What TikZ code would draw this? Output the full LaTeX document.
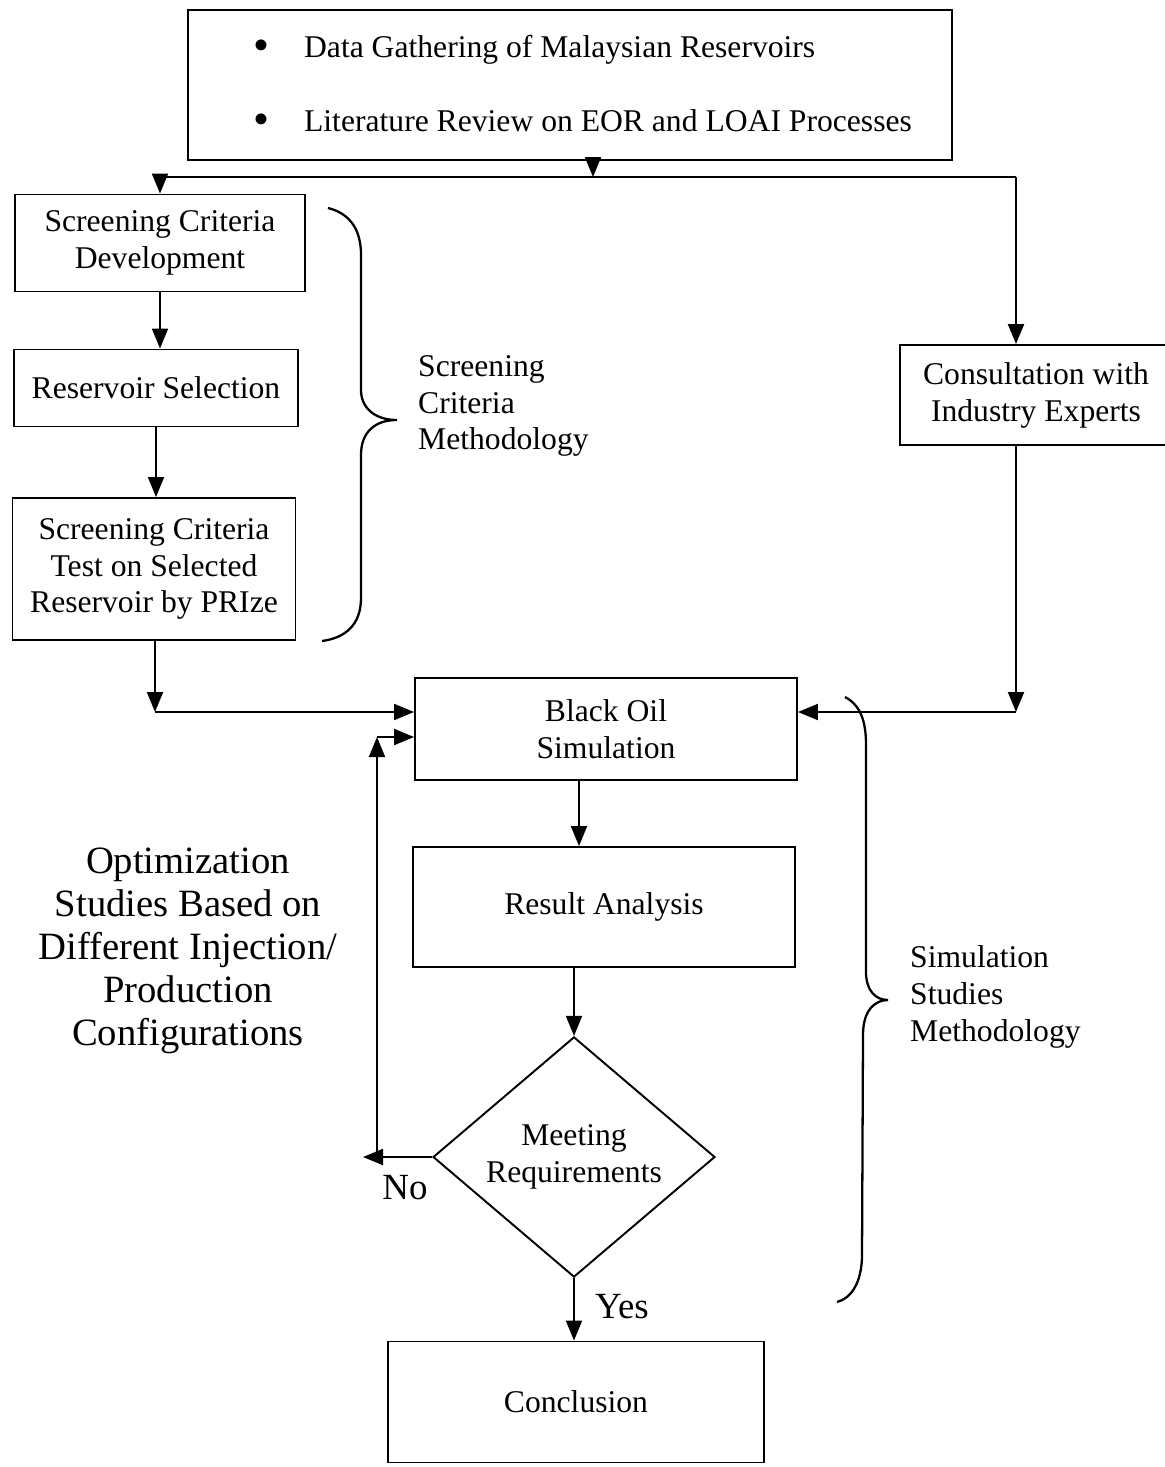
\documentclass[tikz,border=0pt]{standalone}
\usepackage{fontspec}
\setmainfont{Liberation Serif}
\usetikzlibrary{arrows.meta,shapes.geometric,positioning,calc}
\usepackage{xcolor}

\newcommand{\bigdot}{\raisebox{-2pt}{\fontsize{26}{21}\selectfont\textbullet}}

\begin{document}
\begin{tikzpicture}[x=0.02cm,y=-0.02cm,
	box/.style={draw,line width=1.1pt,rectangle,align=center,inner sep=2pt},
	arr/.style={line width=1.1pt,-{Triangle[length=0.4cm,width=0.32cm]}},
	curly/.style={line width=1.3pt},
	every node/.style={font=\fontsize{18}{21}\selectfont}]
	\useasboundingbox (0,0) rectangle (1164,1467);

	\node[box,minimum width=15.28cm,minimum height=3cm,align=left] (gather) at (570,85)
		{\hspace*{0.5cm}\bigdot\hspace{0.7cm}Data Gathering of Malaysian Reservoirs\\[21pt]
		 \hspace*{0.5cm}\bigdot\hspace{0.7cm}Literature Review on EOR and LOAI Processes};
	\node[box,minimum width=5.8cm,minimum height=1.94cm] (scd) at (160,243) {Screening Criteria\\Development};
	\node[box,minimum width=5.68cm,minimum height=1.54cm] (rsel) at (156,388) {Reservoir Selection};
	\node[box,minimum width=5.66cm,minimum height=2.84cm] (sctest) at (154,569) {Screening Criteria\\Test on Selected\\Reservoir by PRIze};
	\node[box,minimum width=5.44cm,minimum height=2cm] (consult) at (1036,395) {Consultation with\\Industry Experts};
	\node[box,minimum width=7.64cm,minimum height=2.04cm] (sim) at (606,729) {Black Oil\\Simulation};
	\node[box,minimum width=7.64cm,minimum height=2.4cm] (result) at (604,907) {Result Analysis};
	\node[draw,diamond,line width=1.1pt,align=center,inner sep=0pt,minimum width=5.64cm,minimum height=4.6cm] (decide) at (574,1157) {Meeting\\Requirements};
	\node[box,minimum width=7.52cm,minimum height=2.42cm] (concl) at (576,1402) {Conclusion};

	\node[anchor=west,align=left] (scmeth) at (412,406) {Screening\\Criteria\\Methodology};
	\node[anchor=west,align=left] (simmeth) at (904,997) {Simulation\\Studies\\Methodology};
	\node[align=center,font=\fontsize{22}{24.5}\selectfont] (optim) at (188,951) {Optimization\\Studies Based on\\Different Injection/\\Production\\Configurations};
	\node[font=\fontsize{21}{24}\selectfont] (no) at (405,1188) {No};
	\node[font=\fontsize{21}{24}\selectfont] (yes) at (622,1307) {Yes};

	\coordinate (j0) at (593,177);
	\coordinate (c1) at (1016,177);
	\coordinate (c2) at (155,712);
	\coordinate (c3) at (1016,712);
	\coordinate (c4) at (363,1157);
	\coordinate (c5) at (377,1157);
	\coordinate (c6) at (377,737);
	\coordinate (axis) at (579,0);

	\draw[arr] (gather.south -| j0) -- (j0);
	\draw[arr] (j0) -| (scd.north);
	\draw[line width=1.1pt] (j0) -- (c1);
	\draw[arr] (c1) -- (c1 |- consult.north);
	\draw[arr] (scd.south) -- (scd.south |- rsel.north);
	\draw[arr] (rsel.south) -- (rsel.south |- sctest.north);
	\draw[arr] (sctest.south -| c2) -- (c2);
	\draw[arr] (c2) -- (c2 -| sim.west);
	\draw[arr] (consult.south -| c3) -- (c3);
	\draw[arr] (c3) -- (c3 -| sim.east);
	\draw[arr] (sim.south -| axis) -- (result.north -| axis);
	\draw[arr] (result.south -| decide.north) -- (decide.north);
	\draw[arr] (decide.west) -- (c4);
	\draw[arr] (c5) -- (c6);
	\draw[arr] (c6) -- (c6 -| sim.west);
	\draw[arr] (decide.south) -- (concl.north -| decide.south);

	\draw[curly] (328,208) .. controls (352,214) and (361,232) .. (361,255) -- (361,390)
		.. controls (361,408) and (375,420) .. (397,420)
		.. controls (375,420) and (361,432) .. (361,455) -- (361,598)
		.. controls (361,625) and (345,638) .. (322,641);
	\draw[curly] (845,697) .. controls (860,705) and (866,720) .. (866,745) -- (866,972)
		.. controls (866,990) and (875,1000) .. (888,1000)
		.. controls (875,1000) and (863,1010) .. (863,1035) -- (862,1258)
		.. controls (861,1282) and (852,1298) .. (837,1302);
\end{tikzpicture}
\end{document}
